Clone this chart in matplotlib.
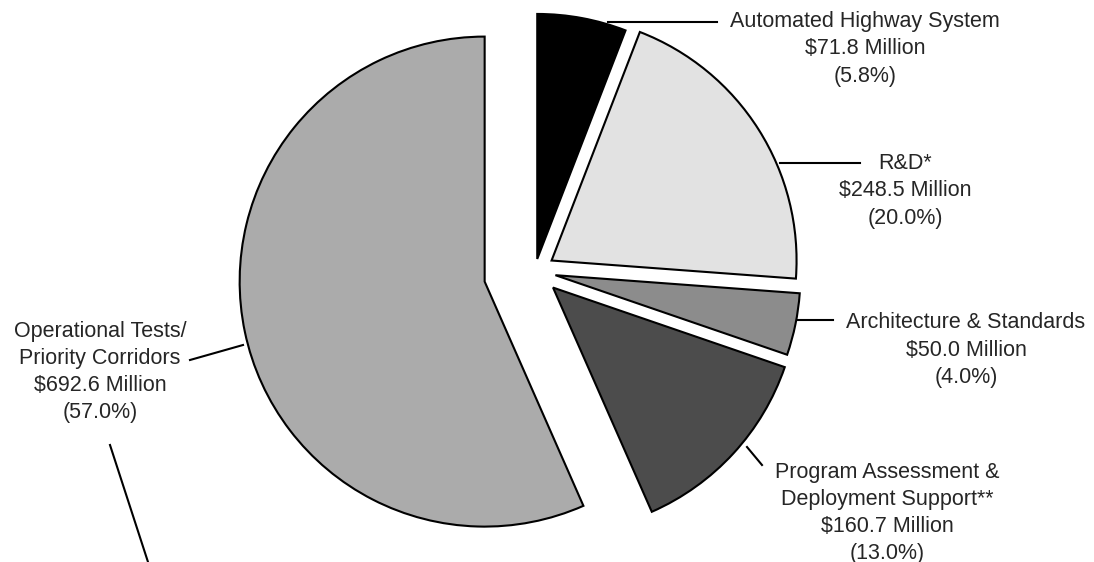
import matplotlib.pyplot as plt

# Data
labels = ["Automated Highway System", "R&D*", "Architecture & Standards",
          "Program Assessment &\nDeployment Support**",
          "Operational Tests/\nPriority Corridors"]
millions = [71.8, 248.5, 50.0, 160.7, 692.6]
shares = ["5.8%", "20.0%", "4.0%", "13.0%", "57.0%"]

# Style
colors = ["#000000", "#e2e2e2", "#8c8c8c", "#4c4c4c", "#ababab"]
explode = [0.05, 0.08, 0.085, 0.10, 0.21]   # fraction of radius

W, H = 1094, 562
R = 245

# label centers (image px, y down) and leader lines
label_pos = [(865, 49), (905, 191), (966, 350), (887, 513), (100, 372)]
leaders = [((608, 22), (717, 22)),
           ((780, 163), (860, 163)),
           ((798, 320), (833, 320)),
           ((747, 447), (762, 465)),
           ((190, 360), (243, 345)),
           ((110, 445), (148, 562))]

plt.rcParams['font.family'] = ['Liberation Sans', 'DejaVu Sans']

fig = plt.figure(figsize=(W / 100, H / 100), dpi=100)
ax = fig.add_axes([0, 0, 1, 1])

ax.pie(millions, explode=[e * R for e in explode], colors=colors,
       startangle=90, counterclock=False, center=(535, H - 271), radius=R,
       wedgeprops=dict(edgecolor="black", linewidth=1.5))

for (lab, m, s), (x, y) in zip(zip(labels, millions, shares), label_pos):
    txt = "%s\n\\$%.1f Million\n(%s)" % (lab, m, s)
    ax.text(x, H - y, txt, ha="center", va="center", multialignment="center",
            fontsize=15.5, color="#262626", linespacing=1.38)

for (x0, y0), (x1, y1) in leaders:
    ax.plot([x0, x1], [H - y0, H - y1], color="black", lw=1.5)

ax.set_xlim(0, W)
ax.set_ylim(0, H)
ax.set_aspect("equal")
ax.axis("off")

fig.savefig("out.png", dpi=100)
